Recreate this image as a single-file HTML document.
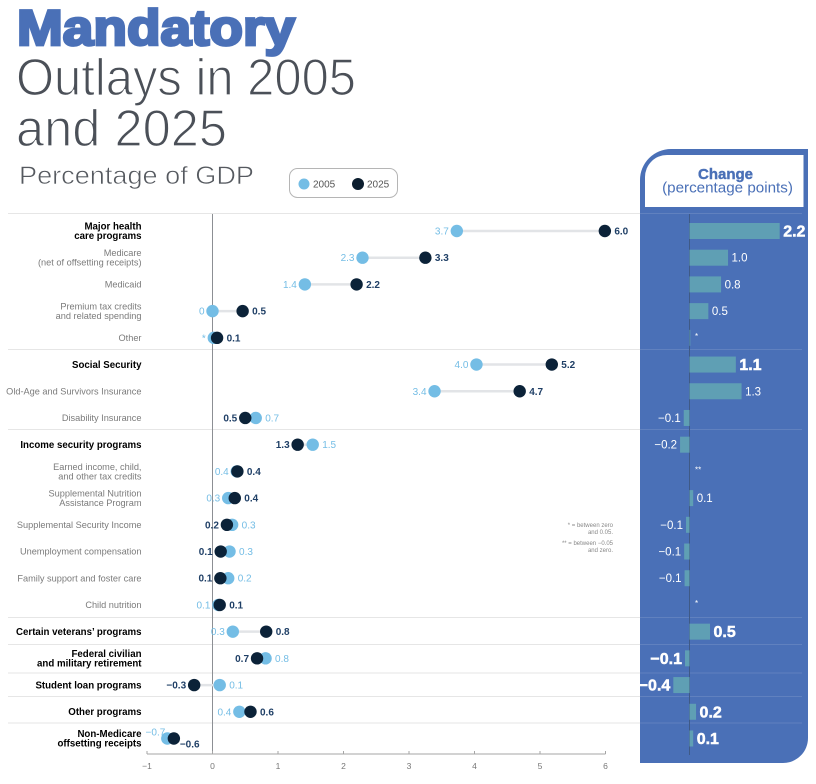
<!DOCTYPE html>
<html lang="en">
<head>
<meta charset="utf-8">
<title>Mandatory Outlays in 2005 and 2025</title>
<style>
html,body{margin:0;padding:0;background:#fff}
svg{display:block;font-family:"Liberation Sans",Arial,sans-serif}
</style>
</head>
<body>
<svg id="chart" width="816" height="784" viewBox="0 0 816 784" xmlns="http://www.w3.org/2000/svg">
  <rect width="816" height="784" fill="#fff"/>
  <text x="17" y="45" font-size="50" font-weight="700" fill="#4a70b7" stroke="#4a70b7" stroke-width="2.8" textLength="278" lengthAdjust="spacingAndGlyphs">Mandatory</text>
  <text x="16" y="95" font-size="52" fill="#4b5058" stroke="#fff" stroke-width="1.3" textLength="340" lengthAdjust="spacingAndGlyphs">Outlays in 2005</text>
  <text x="16" y="146" font-size="52" fill="#4b5058" stroke="#fff" stroke-width="1.3" textLength="211" lengthAdjust="spacingAndGlyphs">and 2025</text>
  <text x="19" y="184" font-size="25" fill="#55595f" stroke="#fff" stroke-width="0.6" textLength="235" lengthAdjust="spacingAndGlyphs">Percentage of GDP</text>

  <g>
    <rect x="289.5" y="168.5" width="108" height="29" rx="8" fill="#fff" stroke="#b5b5b5"/>
    <circle cx="304" cy="184" r="5.5" fill="#74bde5"/>
    <text x="313" y="187.5" font-size="10" fill="#555">2005</text>
    <circle cx="358" cy="184" r="6" fill="#0b1d2e"/>
    <text x="367" y="187.5" font-size="10" fill="#555">2025</text>
  </g>

  <path d="M640 763V180a31 31 0 0 1 31-31H808V738a25 25 0 0 1-25 25Z" fill="#4a70b7"/>
  <path d="M645 207V177a22 22 0 0 1 22-22H803.5V207Z" fill="#fff"/>
  <text x="725.5" y="179" font-size="15" font-weight="700" fill="#4a70b7" stroke="#4a70b7" stroke-width="0.4" text-anchor="middle">Change</text>
  <text x="727.5" y="192.5" font-size="15.2" fill="#4a70b7" text-anchor="middle">(percentage points)</text>

  <g id="grid"></g>
  <line x1="212.5" x2="212.5" y1="214" y2="754" stroke="#8c8f94" stroke-width="1"/>
  <line x1="689.5" x2="689.5" y1="214" y2="755" stroke="#3f5a86" stroke-width="1"/>
  <g id="rows"></g>
  <g id="dots"></g>
  <g id="bars"></g>
  <g id="axis"></g>

  <g font-size="6" fill="#888" text-anchor="end">
    <text x="613" y="527">* = between zero</text>
    <text x="613" y="534">and 0.05.</text>
    <text x="613" y="545">** = between −0.05</text>
    <text x="613" y="552">and zero.</text>
  </g>
</svg>
<script>
var categories = [
  "Major health|care programs", "Medicare|(net of offsetting receipts)", "Medicaid",
  "Premium tax credits|and related spending", "Other", "Social Security",
  "Old-Age and Survivors Insurance", "Disability Insurance", "Income security programs",
  "Earned income, child,|and other tax credits", "Supplemental Nutrition|Assistance Program",
  "Supplemental Security Income", "Unemployment compensation", "Family support and foster care",
  "Child nutrition", "Certain veterans’ programs", "Federal civilian|and military retirement",
  "Student loan programs", "Other programs", "Non-Medicare|offsetting receipts"
];
var headlineRows = [0, 5, 8, 15, 16, 17, 18, 19];
var boldChangeRows = [0, 5, 15, 16, 17, 18, 19];
var values2005 = [3.73, 2.29, 1.41, 0, 0.02, 4.03, 3.39, 0.66, 1.53, 0.37, 0.24, 0.3, 0.26, 0.24, 0.09, 0.31, 0.81, 0.11, 0.41, -0.69];
var values2025 = [5.99, 3.25, 2.2, 0.46, 0.07, 5.18, 4.69, 0.5, 1.3, 0.38, 0.34, 0.22, 0.125, 0.12, 0.11, 0.82, 0.68, -0.28, 0.58, -0.59];
var labels2005 = ["3.7", "2.3", "1.4", "0", "*", "4.0", "3.4", "0.7", "1.5", "0.4", "0.3", "0.3", "0.3", "0.2", "0.1", "0.3", "0.8", "0.1", "0.4", "−0.7"];
var labels2025 = ["6.0", "3.3", "2.2", "0.5", "0.1", "5.2", "4.7", "0.5", "1.3", "0.4", "0.4", "0.2", "0.1", "0.1", "0.1", "0.8", "0.7", "−0.3", "0.6", "−0.6"];
var changeValues = [2.2, 0.94, 0.77, 0.46, 0.02, 1.13, 1.27, -0.14, -0.23, 0, 0.09, -0.085, -0.13, -0.12, 0, 0.5, -0.11, -0.395, 0.16, 0.09];
var changeLabels = ["2.2", "1.0", "0.8", "0.5", "*", "1.1", "1.3", "−0.1", "−0.2", "**", "0.1", "−0.1", "−0.1", "−0.1", "*", "0.5", "−0.1", "−0.4", "0.2", "0.1"];
var axisTicks = [-1, 0, 1, 2, 3, 4, 5, 6];
var axisTickLabels = ["−1", "0", "1", "2", "3", "4", "5", "6"];

var NS = "http://www.w3.org/2000/svg";
function x(v) { return 212.5 + v * 65.5; }
function xc(v) { return 689.5 + v * 41; }
function y(i) { return 231 + i * 26.71; }
function mk(parent, tag, attrs, text) {
  var el = document.createElementNS(NS, tag);
  for (var k in attrs) el.setAttribute(k, attrs[k]);
  if (text !== undefined) el.textContent = text;
  parent.appendChild(el);
  return el;
}
var gridG = document.getElementById("grid");
var rowsG = document.getElementById("rows");
var dotsG = document.getElementById("dots");
var barsG = document.getElementById("bars");
var axisG = document.getElementById("axis");

[213.5, 349.5, 429.5, 617.5, 644.5, 673, 696.5, 723].forEach(function (yy) {
  var a = mk(gridG, "line", { x1: 8, x2: 640, y1: yy, y2: yy, stroke: "#e6e6e6", "stroke-width": 1 });
  
  
  var b = mk(gridG, "line", { x1: 640, x2: 802, y1: yy, y2: yy, stroke: "#ffffff", "stroke-opacity": 0.12, "stroke-width": 1 });
  
  
});

categories.forEach(function (cat, i) {
  var head = headlineRows.indexOf(i) >= 0;
  var lines = cat.split("|");
  var yy = y(i);
  lines.forEach(function (ln, j) {
    var t = mk(rowsG, "text", {
      x: 141.5,
      y: yy + 3.2 + (j - (lines.length - 1) / 2) * 9.4,
      "text-anchor": "end",
      "font-size": head ? 9.7 : 9.2,
      "font-weight": head ? 700 : 400,
      fill: head ? "#000" : "#7b7b7b"
    }, ln);
    
    
  });

  var a = values2005[i], b = values2025[i];
  var conn = mk(dotsG, "line", { x1: x(a), x2: x(b), y1: yy, y2: yy, stroke: "#e2e4e7", "stroke-width": 2.5 });
  
  
  var d1 = mk(dotsG, "circle", { cx: x(a), cy: yy, r: 6.2, fill: "#74bde5" });
  
  
  var d2 = mk(dotsG, "circle", { cx: x(b), cy: yy, r: 6.2, fill: "#0b2238" });
  
  

  var lightLeft = a <= b;
  var last = i === categories.length - 1;
  var l1 = mk(dotsG, "text", {
    x: last ? x(a) - 2 : (lightLeft ? x(a) - 8 : x(a) + 9.5),
    y: last ? yy - 3 : yy + 3.5,
    "text-anchor": last ? "end" : (lightLeft ? "end" : "start"),
    "font-size": 10, fill: "#74bde5"
  }, labels2005[i]);
  
  
  var l2 = mk(dotsG, "text", {
    x: last ? x(b) + 6 : (lightLeft ? x(b) + 9.5 : x(b) - 8),
    y: last ? yy + 9 : yy + 3.5,
    "text-anchor": lightLeft ? "start" : "end",
    "font-size": 10, "font-weight": 700, fill: "#1f3f66"
  }, labels2025[i]);
  
  

  var c = changeValues[i];
  if (c !== 0) {
    var bar = mk(barsG, "rect", {
      x: Math.min(xc(0), xc(c)), y: yy - 8, width: Math.abs(xc(c) - xc(0)), height: 16, fill: "#5f9fb4"
    });
    
    
  }
  var star = changeLabels[i].indexOf("*") >= 0;
  var boldChange = boldChangeRows.indexOf(i) >= 0;
  var cl = mk(barsG, "text", {
    x: c < 0 ? xc(c) - 3 : (star ? 695 : xc(c) + 3.5),
    y: star ? yy + 1 : (boldChange ? yy + 5.5 : yy + 4),
    "text-anchor": c < 0 ? "end" : "start",
    "font-size": star ? 8 : (boldChange ? 16 : 11.5),
    "font-weight": boldChange ? 700 : 400,
    fill: "#fff",
    stroke: boldChange ? "#fff" : "none",
    "stroke-width": boldChange ? 0.5 : 0
  }, changeLabels[i]);
  
  
});

var axisLine = mk(axisG, "line", { x1: x(-1), x2: x(6), y1: 754, y2: 754, stroke: "#a5a5a5", "stroke-width": 1 });


axisTicks.forEach(function (t, i) {
  var tk = mk(axisG, "line", { x1: x(t), x2: x(t), y1: 751, y2: 754, stroke: "#a5a5a5", "stroke-width": 1 });
  
  
  var lb = mk(axisG, "text", { x: x(t), y: 769, "text-anchor": "middle", "font-size": 8.5, fill: "#777" }, axisTickLabels[i]);
  
  
});
</script>
</body>
</html>
